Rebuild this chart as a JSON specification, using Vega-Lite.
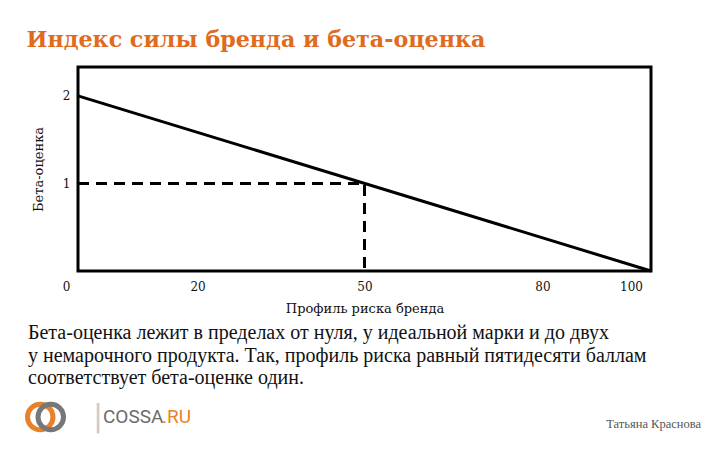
{
  "$schema": "https://vega.github.io/schema/vega-lite/v6.json",
  "background": "white",
  "padding": {"left": 17, "top": 29, "right": 10, "bottom": 5},
  "title": {
    "text": "Индекс силы бренда и бета-оценка",
    "anchor": "start",
    "frame": "bounds",
    "dx": 9,
    "font": "DejaVu Serif",
    "fontSize": 22.2,
    "fontWeight": "bold",
    "color": "#E06A1E",
    "offset": 14
  },
  "config": {
    "view": {"stroke": null},
    "font": "Liberation Serif",
    "title": {"font": "Liberation Serif"}
  },
  "spacing": 4,
  "vconcat": [
    {
      "width": 573,
      "height": 204,
      "view": {"stroke": "black", "strokeWidth": 3},
      "title": {
        "text": [
          "Бета-оценка лежит в пределах от нуля, у идеальной марки и до двух",
          "у немарочного продукта. Так, профиль риска равный пятидесяти баллам",
          "соответствует бета-оценке один."
        ],
        "orient": "bottom",
        "anchor": "start",
        "frame": "group",
        "dx": -50,
        "font": "Liberation Serif",
        "fontSize": 20,
        "fontWeight": "normal",
        "color": "#111111",
        "lineHeight": 22.5,
        "offset": 8
      },
      "data": {
        "values": [
          {"series": "Бета-оценка", "profile": 0, "beta": 2, "step": 1},
          {"series": "Бета-оценка", "profile": 100, "beta": 0, "step": 2},
          {"series": "Пример", "profile": 0, "beta": 1, "step": 1},
          {"series": "Пример", "profile": 50, "beta": 1, "step": 2},
          {"series": "Пример", "profile": 50, "beta": 0, "step": 3}
        ]
      },
      "encoding": {
        "x": {
          "field": "profile",
          "type": "quantitative",
          "scale": {"domain": [0, 100], "nice": false},
          "axis": {
            "title": "Профиль риска бренда",
            "values": [0, 20, 50, 80, 100],
            "domain": false,
            "ticks": false,
            "grid": false,
            "labelFlush": false,
            "labelFont": "DejaVu Serif",
            "labelFontSize": 12,
            "labelColor": "#111111",
            "labelPadding": 10,
            "labelOffset": {"expr": "datum.value == 0 ? -12 : datum.value == 20 ? 5 : datum.value == 50 ? 0 : datum.value == 80 ? 6 : datum.value == 100 ? -20 : 0"},
            "titleFont": "DejaVu Serif",
            "titleFontSize": 13,
            "titleFontWeight": "normal",
            "titleColor": "#111111",
            "titlePadding": 10
          }
        },
        "y": {
          "field": "beta",
          "type": "quantitative",
          "scale": {"domain": [0, 2.33], "nice": false},
          "axis": {
            "title": "Бета-оценка",
            "values": [1, 2],
            "domain": false,
            "ticks": false,
            "grid": false,
            "labelFont": "DejaVu Serif",
            "labelFontSize": 12,
            "labelColor": "#111111",
            "labelPadding": 8,
            "titleFont": "DejaVu Serif",
            "titleFontSize": 13,
            "titleFontWeight": "normal",
            "titleColor": "#111111",
            "titlePadding": 17
          }
        },
        "order": {"field": "step", "type": "quantitative"}
      },
      "layer": [
        {
          "transform": [{"filter": "datum.series === 'Бета-оценка'"}],
          "mark": {"type": "line", "color": "black", "strokeWidth": 3}
        },
        {
          "transform": [{"filter": "datum.series === 'Пример'"}],
          "mark": {"type": "line", "color": "black", "strokeWidth": 3, "strokeDash": [11, 7]}
        }
      ]
    },
    {
      "width": 623,
      "height": 30,
      "resolve": {"scale": {"x": "independent", "color": "independent"}},
      "layer": [
        {
          "data": {"values": [{"ring": "left"}, {"ring": "right"}]},
          "mark": {"type": "point", "filled": false, "strokeWidth": 5, "size": 650, "opacity": 1},
          "encoding": {
            "x": {
              "field": "ring",
              "type": "nominal",
              "scale": {"type": "point", "domain": ["left", "right"], "range": [-43, -22]},
              "axis": null
            },
            "color": {
              "field": "ring",
              "type": "nominal",
              "scale": {"domain": ["left", "right"], "range": ["#E8822A", "#777777"]},
              "legend": null
            }
          }
        },
        {
          "data": {"values": [{"part": "logo", "label": "|"}]},
          "mark": {"type": "text", "align": "center", "dx": 20, "fontSize": 30, "font": "DejaVu Sans", "color": "#cccccc"},
          "encoding": {
            "x": {"field": "part", "type": "nominal", "scale": {"type": "point", "domain": ["logo", "author"], "padding": 0}, "axis": null},
            "text": {"field": "label"}
          }
        },
        {
          "data": {"values": [{"part": "logo", "label": "COSSA"}]},
          "mark": {"type": "text", "align": "left", "dx": 25, "fontSize": 19, "font": "Roboto", "color": "#6b6b6b"},
          "encoding": {
            "x": {"field": "part", "type": "nominal", "scale": {"type": "point", "domain": ["logo", "author"], "padding": 0}, "axis": null},
            "text": {"field": "label"}
          }
        },
        {
          "data": {"values": [{"part": "logo", "label": ".RU"}]},
          "mark": {"type": "text", "align": "left", "dx": 84, "fontSize": 19, "font": "Roboto", "color": "#E8822A"},
          "encoding": {
            "x": {"field": "part", "type": "nominal", "scale": {"type": "point", "domain": ["logo", "author"], "padding": 0}, "axis": null},
            "text": {"field": "label"}
          }
        },
        {
          "data": {"values": [{"part": "author", "label": "Татьяна Краснова"}]},
          "mark": {"type": "text", "align": "right", "dy": 7, "fontSize": 12.5, "font": "Liberation Serif", "color": "#555555"},
          "encoding": {
            "x": {"field": "part", "type": "nominal", "scale": {"type": "point", "domain": ["logo", "author"], "padding": 0}, "axis": null},
            "text": {"field": "label"}
          }
        }
      ]
    }
  ]
}
